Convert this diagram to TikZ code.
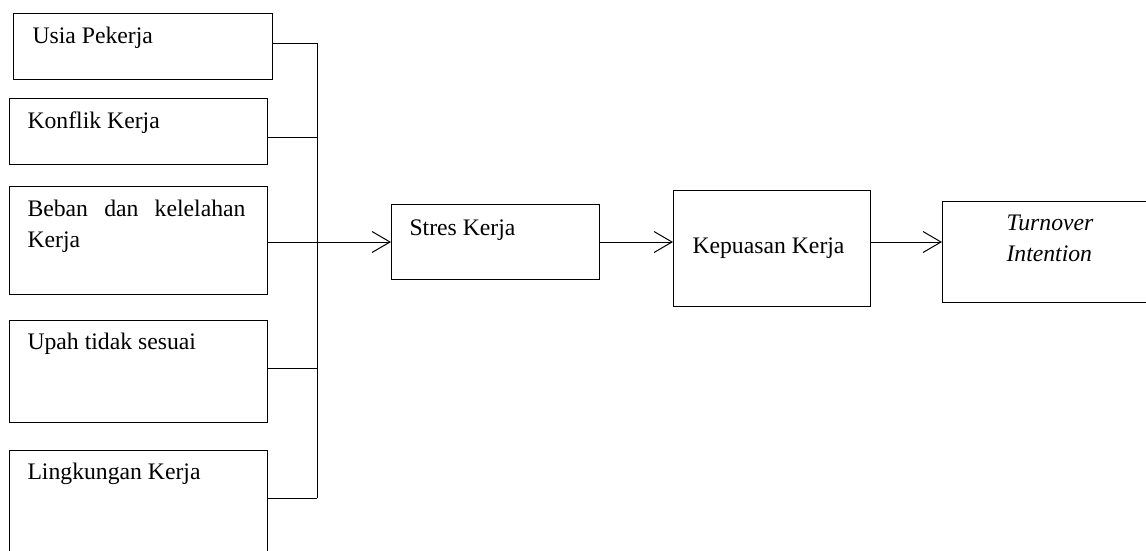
\documentclass[tikz,border=0pt]{standalone}
\usepackage{fontspec}
\setmainfont{Liberation Serif}
\usetikzlibrary{arrows.meta}
\begin{document}
\begin{tikzpicture}[x=1pt,y=-1pt,line width=1pt]
	\tikzstyle{part}=[rectangle, draw=black, anchor=north west, inner sep=0pt]
	\tikzstyle{txt}=[anchor=base west, inner sep=0pt, font=\fontsize{23.7}{31}\selectfont]
	\tikzstyle{arr}=[-{Straight Barb[length=18pt,width=21pt]}]
	\useasboundingbox (0,0) rectangle (1146,550);
	\clip (0,0) rectangle (1146,550);

	% left column
	\node[part, minimum width=259pt, minimum height=66pt] (usia) at (13,13) {};
	\node[txt] (usiaT) at (32,43) {Usia Pekerja};

	\node[part, minimum width=258pt, minimum height=66pt] (konflik) at (9,98) {};
	\node[txt] (konflikT) at (27,128) {Konflik Kerja};

	\node[part, minimum width=258pt, minimum height=108pt] (beban) at (9,186) {};
	\node[txt] (bebanT) at (27,216) {\parbox[t]{218pt}{Beban dan kelelahan Kerja}};

	\node[part, minimum width=258pt, minimum height=102pt] (upah) at (9,320) {};
	\node[txt] (upahT) at (27,349) {Upah tidak sesuai};

	\node[part, minimum width=258pt, minimum height=120pt] (lingkungan) at (9,450) {};
	\node[txt] (lingkunganT) at (27,479) {Lingkungan Kerja};

	% chain
	\node[part, minimum width=208pt, minimum height=75pt] (stres) at (391,204) {};
	\node[txt] (stresT) at (409,235) {Stres Kerja};

	\node[part, minimum width=197pt, minimum height=116pt] (kepuasan) at (673,190) {};
	\node[txt] (kepuasanT) at (692,253) {Kepuasan Kerja};

	\node[part, minimum width=230pt, minimum height=101pt] (turnover) at (942,201) {};
	\node[txt] (turnoverT) at (1006,230) {\parbox[t]{130pt}{\itshape Turnover\\Intention}};

	\coordinate (j1) at (317,43);
	\coordinate (j2) at (317,137);
	\coordinate (j3) at (317,242);
	\coordinate (j4) at (317,368);
	\coordinate (j5) at (317,498);

	\draw (usia.east |- j1) -- (j1);
	\draw (konflik.east |- j2) -- (j2);
	\draw (beban.east |- j3) -- (j3);
	\draw (upah.east |- j4) -- (j4);
	\draw (lingkungan.east |- j5) -- (j5);
	\draw (j1) -- (j5);

	\path[arr]
		(j3) edge (stres.west |- j3)
		(stres.east |- j3) edge (kepuasan.west |- j3)
		(kepuasan.east |- j3) edge (turnover.west |- j3);

\end{tikzpicture}
\end{document}
